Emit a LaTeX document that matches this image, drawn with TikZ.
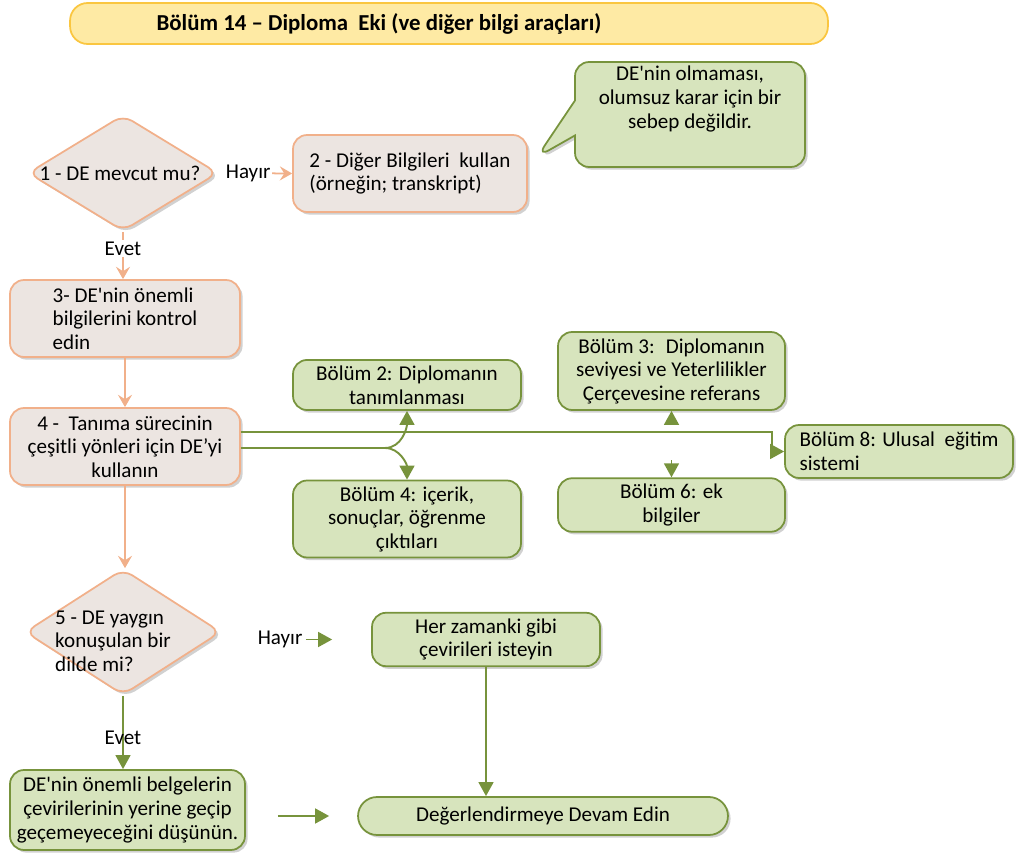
\documentclass[tikz,border=0pt]{standalone}
\usepackage{fontspec}
\setmainfont{Carlito}
\usetikzlibrary{calc,arrows.meta,shapes.geometric,shapes.callouts,shadows}
\definecolor{pinkline}{RGB}{241,176,138}
\definecolor{pinkfill}{RGB}{236,229,225}
\definecolor{oliveline}{RGB}{119,147,60}
\definecolor{olivefill}{RGB}{215,228,189}
\definecolor{titlefill}{RGB}{254,234,164}
\definecolor{titleline}{RGB}{250,198,64}
\def\boxfont{\fontsize{12}{13.4}\selectfont}
\tikzset{
	pinkbox/.style={draw=pinkline, line width=1pt, fill=pinkfill, rounded corners=8pt, font=\boxfont, drop shadow={shadow xshift=1.5pt, shadow yshift=-1.5pt, opacity=0.3, fill=black!60}},
	olivebox/.style={pinkbox, draw=oliveline, fill=olivefill},
	titlebox/.style={draw=titleline, line width=1pt, fill=titlefill, rounded corners=10pt},
	pinkdiamond/.style={diamond, draw=pinkline, line width=1pt, fill=pinkfill, rounded corners=6pt, inner sep=0pt, font=\boxfont, drop shadow={shadow xshift=1.5pt, shadow yshift=-1.5pt, opacity=0.3, fill=black!60}},
	notecallout/.style={rectangle callout, draw=oliveline, line width=1pt, fill=olivefill, rounded corners=8pt, callout pointer width=0.7cm, drop shadow={shadow xshift=1.5pt, shadow yshift=-1.5pt, opacity=0.3, fill=black!60}},
	pinkarrow/.style={draw=pinkline, line width=1pt, -{Stealth[length=7pt, width=8pt, inset=2.5pt]}},
	olivearrow/.style={draw=oliveline, line width=1.1pt, -{Triangle[length=8pt, width=8.5pt]}},
	oliveedge/.style={draw=oliveline, line width=1.1pt},
	lbl/.style={font=\boxfont, inner sep=1pt}
}

\begin{document}
\begin{tikzpicture}[x=0.02cm, y=-0.02cm]
		%%%%% START %%%%%
		
		\useasboundingbox (0, 0) rectangle (1018, 857);
		
		\node[titlebox, minimum width=15.16cm, minimum height=0.82cm, label={[font=\fontsize{13}{15}\selectfont\bfseries, xshift=-1.4cm]center:Bölüm 14 – Diploma~ Eki (ve diğer bilgi araçları)}] (title) at (449, 23.5) {};
		
		\node[pinkdiamond, minimum width=3.8cm, minimum height=2.32cm, label={[lbl, xshift=-0.06cm]center:1 - DE mevcut mu?}] (d1) at (123, 173) {};
		\node[pinkbox, align=left, minimum width=4.68cm, minimum height=1.54cm] (other) at (410, 173.5) {2 - Diğer Bilgileri~ kullan\\(örneğin; transkript)};
		\node[notecallout, minimum width=4.6cm, minimum height=2.1cm, callout absolute pointer={(537, 157)}] (note) at (690, 114.5) {};
		\node[font=\boxfont, align=center] (notetext) at (690, 99) {DE\textquotesingle nin olmaması,\\olumsuz karar için bir\\sebep değildir.};
		
		\node[pinkbox, align=left, minimum width=4.6cm, minimum height=1.54cm] (check) at (125, 318.5) {3- DE\textquotesingle nin önemli\\bilgilerini kontrol\\edin};
		\node[pinkbox, align=center, minimum width=4.6cm, minimum height=1.54cm] (use) at (125, 446.5) {4 -~ Tanıma sürecinin\\çeşitli yönleri için DE’yi\\kullanın};
		
		\node[olivebox, align=center, minimum width=4.56cm, minimum height=1cm] (sec2) at (407, 385) {Bölüm 2: Diplomanın\\tanımlanması};
		\node[olivebox, align=center, minimum width=4.56cm, minimum height=1.52cm] (sec4) at (407, 519) {Bölüm 4: içerik,\\sonuçlar, öğrenme\\çıktıları};
		\node[olivebox, align=center, minimum width=4.54cm, minimum height=1.56cm] (sec3) at (671.5, 371) {Bölüm 3:~ Diplomanın\\seviyesi ve Yeterlilikler\\Çerçevesine referans};
		\node[olivebox, align=center, minimum width=4.54cm, minimum height=1cm] (sec6) at (671.5, 505) {Bölüm 6: ek\\bilgiler};
		\node[olivebox, align=left, minimum width=4.56cm, minimum height=1.06cm] (sec8) at (899, 451.5) {Bölüm 8: Ulusal~ eğitim\\sistemi};
		
		\node[pinkdiamond, minimum width=3.92cm, minimum height=2.52cm, label={[font=\boxfont, align=left, xshift=-0.2cm, yshift=-0.18cm]center:5 - DE yaygın\\konuşulan bir\\dilde mi?}] (d5) at (123, 632) {};
		\node[olivebox, align=center, minimum width=4.56cm, minimum height=0.98cm] (usual) at (486, 639.5) {Her zamanki gibi\\çevirileri isteyin};
		\node[olivebox, align=center, minimum width=4.7cm, minimum height=1.6cm, inner sep=1pt] (consider) at (127.5, 810) {DE\textquotesingle nin önemli belgelerin\\çevirilerinin yerine geçip\\geçemeyeceğini düşünün.};
		\node[olivebox, rounded corners=0.38cm, minimum width=7.4cm, minimum height=0.76cm] (goon) at (543, 816) {Değerlendirmeye Devam Edin};
		
		% salmon flow
		\draw[pinkarrow, shorten <=5pt] (d1.east) -- node[lbl, fill=white, pos=0.4] {Hayır} (other.west);
		\draw[pinkarrow] (d1.south) -- node[lbl, fill=white, pos=0.36] {Evet} (d1.south |- check.north);
		\draw[pinkarrow] (check.south) -- (use.north);
		\draw[pinkarrow] (use.south) -- (use.south |- d5.north);
		
		% green branches
		\coordinate (split) at (772, 432);
		\coordinate (fork) at (385, 448);
		\draw[olivearrow] (use.east |- split) -- (split) |- (sec8.west);
		\draw[olivearrow, shorten <=8pt] (sec3.south |- split) -- (sec3.south);
		\draw[olivearrow, shorten <=16pt] (sec6.north |- split) -- (sec6.north);
		\draw[oliveedge] (use.east |- fork) -- (fork);
		\draw[olivearrow] (fork) to[out=0, in=-90] (sec2.south);
		\draw[olivearrow] (fork) to[out=0, in=90] (sec4.north);
		
		\draw[olivearrow, shorten <=1.68cm, shorten >=0.78cm] (d5.east |- usual.west) -- node[lbl, pos=0.39] {Hayır} (usual.west);
		\draw[olivearrow] (d5.south) -- node[lbl, pos=0.57] {Evet} (d5.south |- consider.north);
		\draw[olivearrow, shorten <=0.64cm, shorten >=0.56cm] (consider.east |- goon.west) -- (goon.west);
		\draw[olivearrow] (usual.south) -- (usual.south |- goon.north);
		
		%%%%% END %%%%%
\end{tikzpicture}
\end{document}
